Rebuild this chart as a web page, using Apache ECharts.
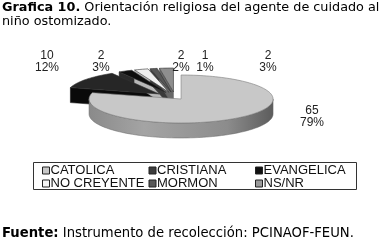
<!DOCTYPE html>
<html><head><meta charset="utf-8">
<script src="https://cdn.jsdelivr.net/npm/echarts@6/dist/echarts.min.js"></script>
<style>html,body{margin:0;padding:0;background:#fff}#c{width:382px;height:242px}</style>
</head><body><div id="c"></div>
<script>
// ---- data ----
const categories = ['CATOLICA', 'CRISTIANA', 'EVANGELICA', 'NO CREYENTE', 'MORMON', 'NS/NR'];
const counts = [65, 2, 10, 2, 1, 2];
const percents = [79, 3, 12, 2, 1, 3];
const titleBold = 'Grafica 10.';
const titleText = ' Orientación religiosa del agente de cuidado al\nniño ostomizado.';
const sourceBold = 'Fuente:';
const sourceText = ' Instrumento de recolección: PCINAOF-FEUN.';

// ---- style / layout ----
const sliceOrder = [0, 2, 1, 3, 4, 5]; // clockwise order of slices around the pie
const topColors = ['#c8c8c8', '#0e0e0e', '#262626', '#efefef', '#575757', '#8e8e8e'];
const sideColors = ['#8c8c8c', '#2a2a2a', '#0a0a0a', '#b8b8b8', '#3a3a3a', '#686868'];
const legendColors = ['#c8c8c8', '#3c3c3c', '#111111', '#f4f4f4', '#575757', '#9a9a9a'];
const explode = [10, 20, 20, 20, 20, 20];
const labelAnchors = [[312, 117], [101, 62], [47, 62], [181, 62], [205, 62], [268, 62]];
const PIE = { cx: 175, cy: 97, rx: 92, ry: 24, depth: 15 };

const total = counts.reduce((a, b) => a + b, 0);
const starts = [];
{ let acc = 0; sliceOrder.forEach(k => { starts[k] = acc / total * 360; acc += counts[k]; }); }

const rad = d => d * Math.PI / 180;
function pt(cx, cy, th, dz) {
  return [cx + PIE.rx * Math.sin(rad(th)), cy - PIE.ry * Math.cos(rad(th)) + (dz || 0)];
}
function arc(cx, cy, a, b, dz) {
  const out = [];
  const n = Math.max(2, Math.ceil((b - a) / 2));
  for (let i = 0; i <= n; i++) out.push(pt(cx, cy, a + (b - a) * i / n, dz));
  return out;
}

function renderItem(params, api) {
  const i = params.dataIndex;
  const v = api.value(0);
  const s = starts[i];
  const e = s + v / total * 360;
  const mid = (s + e) / 2;
  const cx = PIE.cx + explode[i] * Math.sin(rad(mid));
  const cy = PIE.cy - explode[i] * 0.25 * Math.cos(rad(mid));
  const d = PIE.depth;
  const children = [];
  if (Math.sin(rad(s)) < -0.01) {
    const p = pt(cx, cy, s);
    children.push({ type: 'polygon', z2: 1, shape: { points: [[cx, cy], p, [p[0], p[1] + d], [cx, cy + d]] },
      style: { fill: sideColors[i], stroke: sideColors[i], lineWidth: 0.5 } });
  }
  if (Math.sin(rad(e)) > 0.01) {
    const p = pt(cx, cy, e);
    children.push({ type: 'polygon', z2: 1, shape: { points: [[cx, cy], p, [p[0], p[1] + d], [cx, cy + d]] },
      style: { fill: sideColors[i], stroke: sideColors[i], lineWidth: 0.5 } });
  }
  const a = Math.max(s, 90), b = Math.min(e, 270);
  if (b > a) {
    const top = arc(cx, cy, a, b, 0);
    const bot = arc(cx, cy, a, b, d).reverse();
    let fill = sideColors[i];
    if (i === 0) {
      fill = new echarts.graphic.LinearGradient(0, 0, 1, 0, [
        { offset: 0, color: '#8a8a8a' }, { offset: 0.3, color: '#a4a4a4' },
        { offset: 0.75, color: '#8c8c8c' }, { offset: 1, color: '#5c5c5c' }]);
    }
    children.push({ type: 'polygon', z2: 2, shape: { points: top.concat(bot) },
      style: { fill: fill, stroke: '#666', lineWidth: 0.5 } });
  }
  children.push({ type: 'polygon', z2: 3, shape: { points: [[cx, cy]].concat(arc(cx, cy, s, e, 0)) },
    style: { fill: topColors[i], stroke: i === 0 ? '#7a7a7a' : '#333', lineWidth: 0.6 } });
  children.push({ type: 'text', z2: 5, style: {
    text: v + '\n' + percents[i] + '%', x: labelAnchors[i][0], y: labelAnchors[i][1],
    align: 'center', verticalAlign: 'middle', font: '12px "Liberation Sans", Arial',
    fill: '#222', lineHeight: 12 } });
  return { type: 'group', children: children };
}

const chart = echarts.init(document.getElementById('c'), null, { renderer: 'canvas' });
const txt = (size) => ({ fontFamily: 'DejaVu Sans', fontSize: size, fontWeight: 'normal', color: '#000', lineHeight: 14,
  rich: { b: { fontFamily: 'DejaVu Sans', fontSize: size, fontWeight: 'bold', color: '#000', lineHeight: 14 } } });
chart.setOption({
  animation: false,
  backgroundColor: '#fff',
  title: [{
    left: 2, top: 1, padding: 0,
    text: '{b|' + titleBold + '}' + titleText, textStyle: txt(12.8)
  }, {
    left: 2, top: 227, padding: 0,
    text: '{b|' + sourceBold + '}' + sourceText, textStyle: txt(13.2)
  }],
  legend: {
    data: categories, left: 42, top: 164, width: 340, orient: 'horizontal',
    itemWidth: 7, itemHeight: 7, itemGap: 0, icon: 'rect', padding: 0, selectedMode: false,
    itemStyle: { borderColor: '#222', borderWidth: 1 },
    textStyle: { fontFamily: 'Liberation Sans', fontSize: 13, color: '#111', width: 98, lineHeight: 12, padding: [0, 0, 0, -4] }
  },
  graphic: [{ type: 'rect', shape: { x: 33.5, y: 162.5, width: 323, height: 27 },
    style: { fill: 'none', stroke: '#333', lineWidth: 1 } }],
  series: [{
    type: 'custom', coordinateSystem: 'none', renderItem: renderItem,
    data: counts.map((v, i) => ({ name: categories[i], value: [v] }))
  }, {
    type: 'pie', center: [-200, -200], radius: [0, 1], silent: true, label: { show: false },
    data: counts.map((v, i) => ({ name: categories[i], value: v, itemStyle: { color: legendColors[i], borderColor: '#222', borderWidth: 1 } }))
  }]
});
</script></body></html>
